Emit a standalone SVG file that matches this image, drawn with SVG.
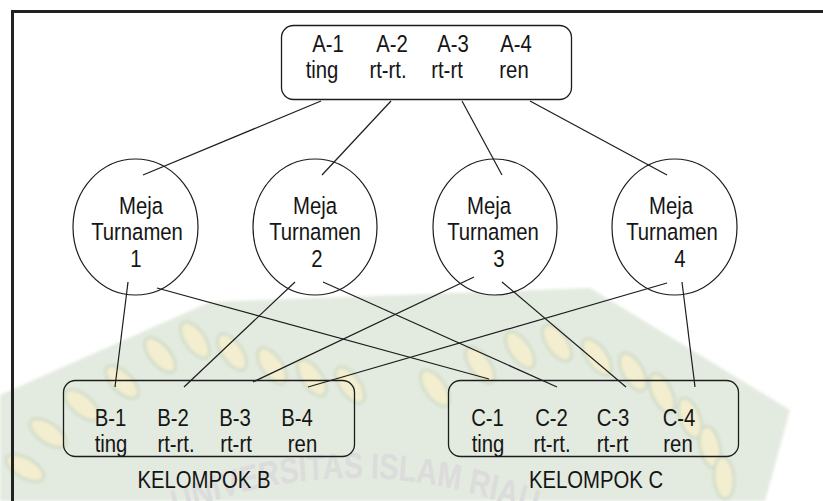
<svg xmlns="http://www.w3.org/2000/svg" width="823" height="501" viewBox="0 0 823 501">
<style>
  .t { font-family: "Liberation Sans", Arial, sans-serif; font-size: 20.3px; fill: #151515; text-anchor: middle; }
  .box { fill: none; stroke: #1c1c1c; stroke-width: 1.3; }
  .node { fill: #ffffff; stroke: #1c1c1c; stroke-width: 1.2; }
  .edge { stroke: #1c1c1c; stroke-width: 1.2; fill: none; }
  .frame { stroke: #222; stroke-width: 3; fill: none; }
  .leaf { fill: #f3eecf; stroke: #d2ddcb; stroke-width: 3; }
  .wm { font-family: "Liberation Sans", Arial, sans-serif; font-weight: bold; font-size: 36px; fill: #dcdcdc; }
</style>
<defs>
  <ellipse id="leaf" class="leaf" cx="0" cy="0" rx="10" ry="21"/>
  <path id="wmArc" d="M -118 928 A 562 450 0 0 1 1006 928"/>
  <filter id="soft" x="-5%" y="-5%" width="110%" height="110%">
    <feGaussianBlur stdDeviation="1.6"/>
  </filter>
</defs>

<g id="watermark">
  <g filter="url(#soft)">
    <polygon points="0,395 210,302 590,288 790,410 765,501 0,501" fill="#e3eadf"/>
    <use href="#leaf" transform="translate(25,468) rotate(-60)"/>
    <use href="#leaf" transform="translate(48,433) rotate(-55)"/>
    <use href="#leaf" transform="translate(82,405) rotate(-50)"/>
    <use href="#leaf" transform="translate(122,382) rotate(-45)"/>
    <use href="#leaf" transform="translate(160,355) rotate(-40)"/>
    <use href="#leaf" transform="translate(195,340) rotate(-35)"/>
    <use href="#leaf" transform="translate(232,352) rotate(-35)"/>
    <use href="#leaf" transform="translate(272,366) rotate(-35)"/>
    <use href="#leaf" transform="translate(312,378) rotate(-35)"/>
    <use href="#leaf" transform="translate(350,385) rotate(-35)"/>
    <use href="#leaf" transform="translate(435,388) rotate(-35)"/>
    <use href="#leaf" transform="translate(480,365) rotate(-35)"/>
    <use href="#leaf" transform="translate(520,350) rotate(-35)"/>
    <use href="#leaf" transform="translate(557,343) rotate(-35)"/>
    <use href="#leaf" transform="translate(597,357) rotate(-35)"/>
    <use href="#leaf" transform="translate(633,372) rotate(-30)"/>
    <use href="#leaf" transform="translate(662,393) rotate(-25)"/>
    <use href="#leaf" transform="translate(690,418) rotate(-20)"/>
    <use href="#leaf" transform="translate(710,447) rotate(-12)"/>
    <use href="#leaf" transform="translate(724,478) rotate(-5)"/>
  </g>
  <g transform="scale(0.8,1)">
    <text class="wm"><textPath href="#wmArc" startOffset="50%" text-anchor="middle">UNIVERSITAS ISLAM RIAU</textPath></text>
  </g>
</g>

<g id="frame">
  <path class="frame" d="M12.5 501 V11.5 H823"/>
</g>

<g id="nodeA">
  <rect class="box" x="281.5" y="25.5" width="290" height="74" rx="12"/>
  <text class="t" transform="translate(328,52) scale(1,1.16)">A-1</text>
  <text class="t" transform="translate(392,52) scale(1,1.16)">A-2</text>
  <text class="t" transform="translate(453,52) scale(1,1.16)">A-3</text>
  <text class="t" transform="translate(516,52) scale(1,1.16)">A-4</text>
  <text class="t" transform="translate(322,78) scale(1,1.16)">ting</text>
  <text class="t" transform="translate(388,78) scale(1,1.16)">rt-rt.</text>
  <text class="t" transform="translate(447,78) scale(1,1.16)">rt-rt</text>
  <text class="t" transform="translate(514,78) scale(1,1.16)">ren</text>
</g>

<g id="meja1">
  <ellipse class="node" cx="135.5" cy="227" rx="62.5" ry="68"/>
</g>
<g id="meja2">
  <ellipse class="node" cx="315" cy="227" rx="62" ry="68"/>
</g>
<g id="meja3">
  <ellipse class="node" cx="495" cy="227" rx="62" ry="68"/>
</g>
<g id="meja4">
  <ellipse class="node" cx="674.5" cy="227" rx="62.5" ry="68"/>
</g>

<g id="connectors">
  <line class="edge" x1="321" y1="101" x2="143" y2="175"/>
  <line class="edge" x1="391" y1="101" x2="322" y2="175"/>
  <line class="edge" x1="462" y1="101" x2="502" y2="175"/>
  <line class="edge" x1="530" y1="101" x2="667" y2="175"/>
  <line class="edge" x1="128" y1="282" x2="115" y2="387"/>
  <line class="edge" x1="157" y1="288" x2="489" y2="379"/>
  <line class="edge" x1="295" y1="282" x2="184" y2="387"/>
  <line class="edge" x1="323" y1="282" x2="557" y2="387"/>
  <line class="edge" x1="474" y1="277" x2="253" y2="382"/>
  <line class="edge" x1="502" y1="282" x2="626" y2="387"/>
  <line class="edge" x1="667" y1="283" x2="308" y2="387"/>
  <line class="edge" x1="682" y1="282" x2="695" y2="387"/>
</g>

<g id="meja1-label">
  <text class="t" transform="translate(141,214) scale(1,1.16)">Meja</text>
  <text class="t" transform="translate(137,240) scale(1,1.16)">Turnamen</text>
  <text class="t" transform="translate(136,267) scale(1,1.16)">1</text>
</g>
<g id="meja2-label">
  <text class="t" transform="translate(315,214) scale(1,1.16)">Meja</text>
  <text class="t" transform="translate(315,240) scale(1,1.16)">Turnamen</text>
  <text class="t" transform="translate(317,267) scale(1,1.16)">2</text>
</g>
<g id="meja3-label">
  <text class="t" transform="translate(489,214) scale(1,1.16)">Meja</text>
  <text class="t" transform="translate(493,240) scale(1,1.16)">Turnamen</text>
  <text class="t" transform="translate(499,267) scale(1,1.16)">3</text>
</g>
<g id="meja4-label">
  <text class="t" transform="translate(671,214) scale(1,1.16)">Meja</text>
  <text class="t" transform="translate(672,240) scale(1,1.16)">Turnamen</text>
  <text class="t" transform="translate(680,267) scale(1,1.16)">4</text>
</g>

<g id="kelompokB">
  <rect class="box" x="63.5" y="380.5" width="291" height="76" rx="12"/>
  <text class="t" transform="translate(110.5,426) scale(1,1.16)">B-1</text>
  <text class="t" transform="translate(173,426) scale(1,1.16)">B-2</text>
  <text class="t" transform="translate(235,426) scale(1,1.16)">B-3</text>
  <text class="t" transform="translate(297,426) scale(1,1.16)">B-4</text>
  <text class="t" transform="translate(111,452) scale(1,1.16)">ting</text>
  <text class="t" transform="translate(176,452) scale(1,1.16)">rt-rt.</text>
  <text class="t" transform="translate(236,452) scale(1,1.16)">rt-rt</text>
  <text class="t" transform="translate(302.5,452) scale(1,1.16)">ren</text>
  <text class="t" transform="translate(204,488) scale(1,1.16)">KELOMPOK B</text>
</g>

<g id="kelompokC">
  <rect class="box" x="448.5" y="380.5" width="290" height="76" rx="12"/>
  <text class="t" transform="translate(487.5,426) scale(1,1.16)">C-1</text>
  <text class="t" transform="translate(551.5,426) scale(1,1.16)">C-2</text>
  <text class="t" transform="translate(613,426) scale(1,1.16)">C-3</text>
  <text class="t" transform="translate(679,426) scale(1,1.16)">C-4</text>
  <text class="t" transform="translate(488,452) scale(1,1.16)">ting</text>
  <text class="t" transform="translate(552,452) scale(1,1.16)">rt-rt.</text>
  <text class="t" transform="translate(612.5,452) scale(1,1.16)">rt-rt</text>
  <text class="t" transform="translate(678,452) scale(1,1.16)">ren</text>
  <text class="t" transform="translate(596,488) scale(1,1.16)">KELOMPOK C</text>
</g>
</svg>
